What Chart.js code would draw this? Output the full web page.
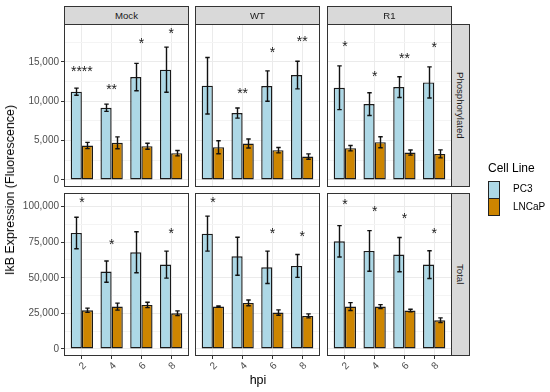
<!DOCTYPE html>
<html>
<head>
<meta charset="utf-8">
<script src="https://cdn.jsdelivr.net/npm/chart.js@4.4.0/dist/chart.umd.min.js"></script>
<style>
body { margin: 0; background: #fff; width: 550px; height: 392px; position: relative; overflow: hidden; font-family: "Liberation Sans", Arial, sans-serif; }
canvas { position: absolute; left: 0; top: 0; }
.strip { position: absolute; background: #D9D9D9; border: 1px solid #333; box-sizing: border-box; color: #1A1A1A; font-size: 9.6px; display: flex; align-items: center; justify-content: center; }
.vert { writing-mode: vertical-rl; }
.txt { position: absolute; white-space: nowrap; color: #000; }
.key { position: absolute; width: 12px; height: 18px; border: 1px solid #222; box-sizing: border-box; }
</style>
</head>
<body>
<script>
var hpi = ['2', '4', '6', '8'];
var infections = ['Mock', 'WT', 'R1'];
var measures = ['Phosphorylated', 'Total'];
var cellLines = ['PC3', 'LNCaP'];
var colours = ['#ADD8E6', '#CD8500'];

// one inner list per infection (Mock, WT, R1), values per hpi
var phosPC3 = [[11220, 9180, 13080, 14020], [11980, 8500, 11940, 13340], [11720, 9640, 11810, 12400]];
var phosPC3Err = [[450, 460, 1740, 2870], [3590, 640, 1930, 1760], [2780, 1440, 1320, 1980]];
var phosLNCaP = [[4380, 4720, 4290, 3400], [4160, 4630, 3780, 2970], [4040, 4800, 3480, 3310]];
var phosLNCaPErr = [[400, 760, 380, 340], [830, 570, 340, 340], [340, 700, 320, 510]];
var totalPC3 = [[81500, 54330, 67920, 59250], [81030, 65100, 57380, 58310], [75650, 68850, 66280, 59250]];
var totalPC3Err = [[11100, 7500, 14400, 9500], [12300, 13350, 11360, 8000], [11000, 14300, 12000, 9800]];
var totalLNCaP = [[27170, 29740, 30910, 25060], [29740, 32320, 25530, 23190], [29740, 29740, 26930, 20140]];
var totalLNCaPErr = [[1500, 2460, 1870, 1640], [500, 2000, 1870, 1400], [2800, 1400, 900, 1640]];

var phosStars = [['****', '**', '*', '*'], ['', '**', '*', '**'], ['*', '*', '**', '*']];
var phosStarY = [[14100, 11770, 17670, 18990], [0, 11260, 16480, 17930], [17290, 13510, 15720, 17120]];
var totalStars = [['*', '*', '', '*'], ['*', '', '*', '*'], ['*', '*', '*', '*']];
var totalStarY = [[104450, 75170, 0, 83140], [104450, 0, 83140, 80560], [103040, 98600, 93680, 83140]];

var phosTicks = [0, 5000, 10000, 15000];
var totalTicks = [0, 25000, 50000, 75000, 100000];

var colLeft = [64, 195, 327];
var rowTop = [24, 193];
var panelW = 125, panelH = 163;
var W = 550, H = 392;
var yAxisW = 44, xAxisH = 22;

function addDiv(cls, css, text)
{
    var d = document.createElement('div');
    d.className = cls;
    d.style.cssText = css;
    if (text) d.textContent = text;
    document.body.appendChild(d);
    return d;
}

function makePanel(row, col)
{
    var isLeft = col == 0, isBottom = row == 1;
    var extraL = isLeft ? yAxisW : 0, extraB = isBottom ? xAxisH : 0;
    var pc3 = row == 0 ? phosPC3[col] : totalPC3[col];
    var pc3Err = row == 0 ? phosPC3Err[col] : totalPC3Err[col];
    var ln = row == 0 ? phosLNCaP[col] : totalLNCaP[col];
    var lnErr = row == 0 ? phosLNCaPErr[col] : totalLNCaPErr[col];
    var stars = row == 0 ? phosStars[col] : totalStars[col];
    var starY = row == 0 ? phosStarY[col] : totalStarY[col];
    var major = row == 0 ? phosTicks : totalTicks;
    var step = major[1] - major[0];
    var yTicks = [];
    for (var t = 0; t < (row == 0 ? 19000 : 105000); t += step / 2) yTicks.push(t);

    var cv = document.createElement('canvas');
    cv.width = W;
    cv.height = H;
    document.body.appendChild(cv);

    var pts = function(arr) { return arr.map(function(y, i) { return {x: i + 1, y: y}; }); };

    var decor = {
        id: 'decor',
        afterDatasetsDraw: function(chart)
        {
            var c = chart.ctx, ys = chart.scales.y, xs = chart.scales.x;
            c.save();
            c.strokeStyle = '#111';
            c.lineWidth = 1.4;
            chart.data.datasets.forEach(function(ds, d) {
                chart.getDatasetMeta(d).data.forEach(function(bar, i) {
                    var v = ds.data[i].y, e = ds.err[i];
                    var top = ys.getPixelForValue(v + e), bot = ys.getPixelForValue(v - e);
                    var x = Math.round(bar.x) + 0.5, h = bar.width * 0.2;
                    c.beginPath();
                    c.moveTo(x, top); c.lineTo(x, bot);
                    c.moveTo(x - h, top); c.lineTo(x + h, top);
                    c.moveTo(x - h, bot); c.lineTo(x + h, bot);
                    c.stroke();
                });
            });
            c.fillStyle = '#1A1A1A';
            c.font = '14px "Liberation Sans", Arial, sans-serif';
            c.textAlign = 'center';
            c.textBaseline = 'alphabetic';
            stars.forEach(function(s, i) {
                if (!s) return;
                c.fillText(s, xs.getPixelForValue(i + 1), ys.getPixelForValue(starY[i]) + 7);
            });
            var a = chart.chartArea;
            c.lineWidth = 1;
            c.strokeStyle = '#333';
            c.strokeRect(a.left + 0.5, a.top + 0.5, a.right - a.left - 1, a.bottom - a.top - 1);
            c.restore();
        }
    };

    new Chart(cv, {
        type: 'bar',
        data: {
            datasets: [
                {label: cellLines[0], data: pts(pc3), err: pc3Err, backgroundColor: colours[0]},
                {label: cellLines[1], data: pts(ln), err: lnErr, backgroundColor: colours[1]}
            ]
        },
        options: {
            responsive: false,
            animation: false,
            devicePixelRatio: 1,
            layout: {padding: {
                left: colLeft[col] - extraL, top: rowTop[row],
                right: W - colLeft[col] - panelW, bottom: H - rowTop[row] - panelH - extraB
            }},
            datasets: {bar: {categoryPercentage: 0.75, barPercentage: 1, borderColor: '#1A1A1A', borderWidth: 1.4, borderSkipped: false}},
            plugins: {legend: {display: false}, tooltip: {enabled: false}},
            scales: {
                x: {
                    type: 'linear', bounds: 'data', min: 0.4, max: 4.6, offset: false,
                    afterBuildTicks: function(s) { s.ticks = hpi.map(function(h, i) { return {value: i + 1}; }); },
                    afterFit: function(s) { s.height = extraB; },
                    border: {display: false},
                    grid: {offset: false, color: '#EBEBEB', lineWidth: 1, drawTicks: isBottom, tickLength: 3, tickColor: '#333'},
                    ticks: {
                        display: isBottom, minRotation: 45, maxRotation: 45, padding: 1, labelOffset: 3,
                        color: '#4D4D4D', font: {family: '"Liberation Sans", Arial, sans-serif', size: 10},
                        callback: function(v) { return hpi[v - 1]; }
                    }
                },
                y: {
                    type: 'linear', bounds: 'data',
                    min: row == 0 ? -900 : -5000, max: row == 0 ? 19830 : 109600,
                    afterBuildTicks: function(s) { s.ticks = yTicks.map(function(v) { return {value: v}; }); },
                    afterFit: function(s) { s.width = extraL; },
                    border: {display: false},
                    grid: {
                        drawTicks: isLeft, tickLength: 3,
                        color: function(ctx) { return major.indexOf(ctx.tick.value) >= 0 ? '#EBEBEB' : '#F4F4F4'; },
                        tickColor: function(ctx) { return major.indexOf(ctx.tick.value) >= 0 ? '#333' : 'rgba(0,0,0,0)'; }
                    },
                    ticks: {
                        display: isLeft, autoSkip: false, padding: 2,
                        color: '#4D4D4D', font: {family: '"Liberation Sans", Arial, sans-serif', size: 10},
                        callback: function(v) { return major.indexOf(v) >= 0 ? v.toLocaleString('en-US') : ''; }
                    }
                }
            }
        },
        plugins: [decor]
    });
}

for (var r = 0; r < 2; r++)
    for (var k = 0; k < 3; k++)
        makePanel(r, k);

// facet strips
infections.forEach(function(name, i) {
    addDiv('strip', 'left:' + colLeft[i] + 'px;top:6px;width:' + panelW + 'px;height:19px;', name);
});
measures.forEach(function(name, i) {
    addDiv('strip vert', 'left:451px;top:' + rowTop[i] + 'px;width:19px;height:' + panelH + 'px;', name);
});

// axis titles
addDiv('txt', 'left:258px;top:380px;font-size:12.5px;transform:translate(-50%,-50%);', 'hpi');
addDiv('txt', 'left:10px;top:190px;font-size:12.5px;transform:translate(-50%,-50%) rotate(-90deg);', 'IkB Expression (Fluorescence)');

// legend
addDiv('txt', 'left:488px;top:161px;font-size:12px;', 'Cell Line');
cellLines.forEach(function(name, i) {
    addDiv('key', 'left:488px;top:' + (181 + i * 17) + 'px;background:' + colours[i] + ';');
    addDiv('txt', 'left:513px;top:' + (183 + i * 18) + 'px;font-size:10px;', name);
});
</script>
</body>
</html>
